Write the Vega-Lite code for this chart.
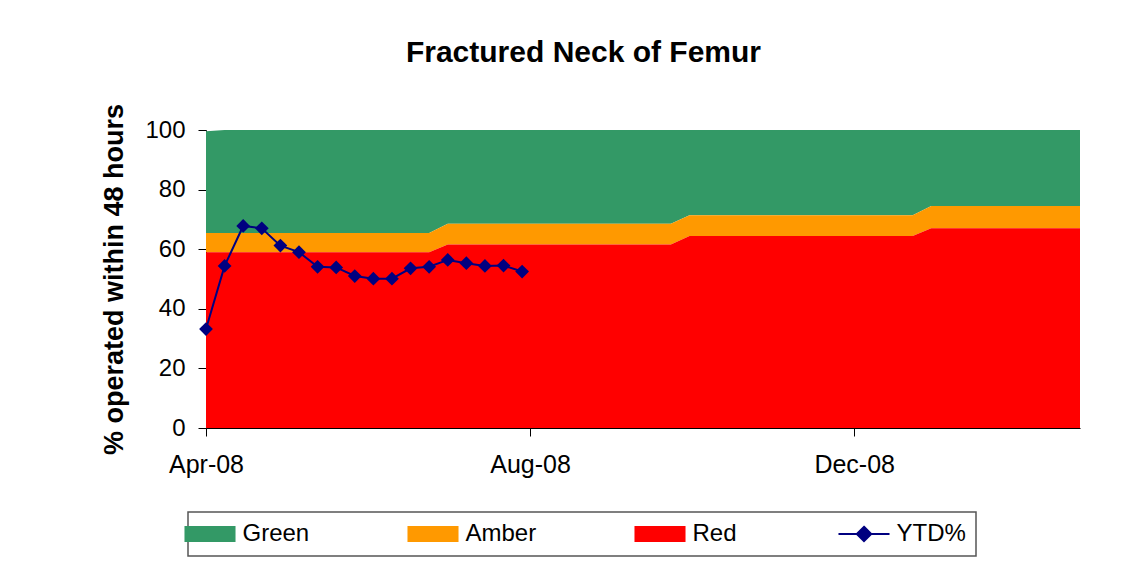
{
  "$schema": "https://vega.github.io/schema/vega-lite/v6.json",
  "width": 874,
  "height": 298,
  "autosize": {"type": "none"},
  "padding": {"left": 206, "top": 130, "right": 64, "bottom": 136},
  "background": "white",
  "title": {
    "text": "Fractured Neck of Femur",
    "font": "Liberation Sans",
    "fontSize": 30,
    "fontWeight": "bold",
    "color": "#000000",
    "anchor": "middle",
    "frame": "bounds",
    "offset": 35,
    "dx": -7
  },
  "data": {
    "values": [
      {"date": "2008-04-06", "red": 59.0, "amber": 65.4, "green": 99.6, "ytd": 33.2},
      {"date": "2008-04-13", "red": 59.0, "amber": 65.4, "green": 100, "ytd": 54.4},
      {"date": "2008-04-20", "red": 59.0, "amber": 65.4, "green": 100, "ytd": 67.8},
      {"date": "2008-04-27", "red": 59.0, "amber": 65.4, "green": 100, "ytd": 67.0},
      {"date": "2008-05-04", "red": 59.0, "amber": 65.4, "green": 100, "ytd": 61.2},
      {"date": "2008-05-11", "red": 59.0, "amber": 65.4, "green": 100, "ytd": 59.0},
      {"date": "2008-05-18", "red": 59.0, "amber": 65.4, "green": 100, "ytd": 54.1},
      {"date": "2008-05-25", "red": 59.0, "amber": 65.4, "green": 100, "ytd": 53.9},
      {"date": "2008-06-01", "red": 59.0, "amber": 65.4, "green": 100, "ytd": 51.0},
      {"date": "2008-06-08", "red": 59.0, "amber": 65.4, "green": 100, "ytd": 50.1},
      {"date": "2008-06-15", "red": 59.0, "amber": 65.4, "green": 100, "ytd": 50.1},
      {"date": "2008-06-22", "red": 59.0, "amber": 65.4, "green": 100, "ytd": 53.6},
      {"date": "2008-06-29", "red": 59.0, "amber": 65.4, "green": 100, "ytd": 54.1},
      {"date": "2008-07-06", "red": 61.6, "amber": 68.5, "green": 100, "ytd": 56.4},
      {"date": "2008-07-13", "red": 61.6, "amber": 68.5, "green": 100, "ytd": 55.3},
      {"date": "2008-07-20", "red": 61.6, "amber": 68.5, "green": 100, "ytd": 54.4},
      {"date": "2008-07-27", "red": 61.6, "amber": 68.5, "green": 100, "ytd": 54.5},
      {"date": "2008-08-03", "red": 61.6, "amber": 68.5, "green": 100, "ytd": 52.5},
      {"date": "2008-08-10", "red": 61.6, "amber": 68.5, "green": 100, "ytd": null},
      {"date": "2008-08-17", "red": 61.6, "amber": 68.5, "green": 100, "ytd": null},
      {"date": "2008-08-24", "red": 61.6, "amber": 68.5, "green": 100, "ytd": null},
      {"date": "2008-08-31", "red": 61.6, "amber": 68.5, "green": 100, "ytd": null},
      {"date": "2008-09-07", "red": 61.6, "amber": 68.5, "green": 100, "ytd": null},
      {"date": "2008-09-14", "red": 61.6, "amber": 68.5, "green": 100, "ytd": null},
      {"date": "2008-09-21", "red": 61.6, "amber": 68.5, "green": 100, "ytd": null},
      {"date": "2008-09-28", "red": 61.6, "amber": 68.5, "green": 100, "ytd": null},
      {"date": "2008-10-05", "red": 64.4, "amber": 71.4, "green": 100, "ytd": null},
      {"date": "2008-10-12", "red": 64.4, "amber": 71.4, "green": 100, "ytd": null},
      {"date": "2008-10-19", "red": 64.4, "amber": 71.4, "green": 100, "ytd": null},
      {"date": "2008-10-26", "red": 64.4, "amber": 71.4, "green": 100, "ytd": null},
      {"date": "2008-11-02", "red": 64.4, "amber": 71.4, "green": 100, "ytd": null},
      {"date": "2008-11-09", "red": 64.4, "amber": 71.4, "green": 100, "ytd": null},
      {"date": "2008-11-16", "red": 64.4, "amber": 71.4, "green": 100, "ytd": null},
      {"date": "2008-11-23", "red": 64.4, "amber": 71.4, "green": 100, "ytd": null},
      {"date": "2008-11-30", "red": 64.4, "amber": 71.4, "green": 100, "ytd": null},
      {"date": "2008-12-07", "red": 64.4, "amber": 71.4, "green": 100, "ytd": null},
      {"date": "2008-12-14", "red": 64.4, "amber": 71.4, "green": 100, "ytd": null},
      {"date": "2008-12-21", "red": 64.4, "amber": 71.4, "green": 100, "ytd": null},
      {"date": "2008-12-28", "red": 64.4, "amber": 71.4, "green": 100, "ytd": null},
      {"date": "2009-01-04", "red": 67.0, "amber": 74.5, "green": 100, "ytd": null},
      {"date": "2009-01-11", "red": 67.0, "amber": 74.5, "green": 100, "ytd": null},
      {"date": "2009-01-18", "red": 67.0, "amber": 74.5, "green": 100, "ytd": null},
      {"date": "2009-01-25", "red": 67.0, "amber": 74.5, "green": 100, "ytd": null},
      {"date": "2009-02-01", "red": 67.0, "amber": 74.5, "green": 100, "ytd": null},
      {"date": "2009-02-08", "red": 67.0, "amber": 74.5, "green": 100, "ytd": null},
      {"date": "2009-02-15", "red": 67.0, "amber": 74.5, "green": 100, "ytd": null},
      {"date": "2009-02-22", "red": 67.0, "amber": 74.5, "green": 100, "ytd": null},
      {"date": "2009-03-01", "red": 67.0, "amber": 74.5, "green": 100, "ytd": null}
    ]
  },
  "encoding": {
    "x": {
      "field": "date",
      "type": "temporal",
      "title": null,
      "scale": {
        "type": "utc",
        "domain": [
          {"year": 2008, "month": 4, "date": 6, "utc": true},
          {"year": 2009, "month": 3, "date": 1, "utc": true}
        ],
        "nice": false
      },
      "axis": {
        "values": [
          {"year": 2008, "month": 4, "date": 6, "utc": true},
          {"year": 2008, "month": 8, "date": 6, "utc": true},
          {"year": 2008, "month": 12, "date": 6, "utc": true}
        ],
        "format": "%b-%y",
        "grid": false,
        "domainColor": "#000000",
        "tickColor": "#000000",
        "tickSize": 8,
        "labelFont": "Liberation Sans",
        "labelFontSize": 25,
        "labelColor": "#000000",
        "labelPadding": 16,
        "labelFlush": false,
        "labelOverlap": false
      }
    }
  },
  "layer": [
    {
      "mark": {"type": "area", "opacity": 1, "interpolate": "linear"},
      "encoding": {
        "y": {
          "field": "green",
          "type": "quantitative",
          "scale": {"domain": [0, 100], "nice": false},
          "title": "% operated within 48 hours",
          "axis": {
            "values": [0, 20, 40, 60, 80, 100],
            "grid": false,
            "domainColor": "#000000",
            "tickColor": "#000000",
            "tickSize": 8,
            "labelFont": "Liberation Sans",
            "labelFontSize": 24,
            "labelColor": "#000000",
            "labelPadding": 13,
            "titleFont": "Liberation Sans",
            "titleFontSize": 27,
            "titleFontWeight": "bold",
            "titleColor": "#000000",
            "titlePadding": 16
          }
        },
        "y2": {"field": "amber"},
        "color": {
          "datum": "Green",
          "type": "nominal",
          "scale": {
            "domain": ["Green", "Amber", "Red", "YTD%"],
            "range": ["#339966", "#FF9900", "#FF0000", "#000080"]
          }
        }
      }
    },
    {
      "mark": {"type": "area", "opacity": 1, "interpolate": "linear"},
      "encoding": {
        "y": {"field": "amber", "type": "quantitative"},
        "y2": {"field": "red"},
        "color": {"datum": "Amber", "type": "nominal"}
      }
    },
    {
      "mark": {"type": "area", "opacity": 1, "interpolate": "linear"},
      "encoding": {
        "y": {"field": "red", "type": "quantitative"},
        "y2": {"datum": 0},
        "color": {"datum": "Red", "type": "nominal"}
      }
    },
    {
      "mark": {
        "type": "line",
        "strokeWidth": 2,
        "point": {"filled": true, "shape": "diamond", "size": 190, "opacity": 1}
      },
      "encoding": {
        "y": {"field": "ytd", "type": "quantitative"},
        "color": {
          "datum": "YTD%",
          "type": "nominal",
          "legend": {
            "title": null,
            "orient": "none",
            "legendX": -18,
            "legendY": 382,
            "direction": "horizontal",
            "columns": 4,
            "columnPadding": 97,
            "labelFont": "Liberation Sans",
            "labelFontSize": 24,
            "labelColor": "#000000",
            "labelOffset": 20.5,
            "symbolSize": 256,
            "symbolType": "M-3.19,-1H3.19V1H-3.19Z",
            "symbolStrokeWidth": 0,
            "padding": 10,
            "strokeColor": "#555555",
            "encode": {
              "symbols": {
                "update": {
                  "shape": {"signal": "datum.value === 'YTD%' ? 'M-3.19,0H3.19M0,-0.9L0.9,0L0,0.9L-0.9,0Z' : 'M-3.19,-1H3.19V1H-3.19Z'"},
                  "fill": {"scale": "color", "field": "value"},
                  "stroke": {"scale": "color", "field": "value"},
                  "strokeWidth": {"signal": "datum.value === 'YTD%' ? 2 : 0"},
                  "opacity": {"value": 1},
                  "fillOpacity": {"value": 1},
                  "strokeOpacity": {"value": 1}
                }
              },
              "legend": {
                "update": {"strokeWidth": {"value": 1.5}}
              }
            }
          }
        }
      }
    }
  ],
  "config": {
    "view": {"stroke": null},
    "axis": {"domainWidth": 1, "tickWidth": 1}
  }
}
